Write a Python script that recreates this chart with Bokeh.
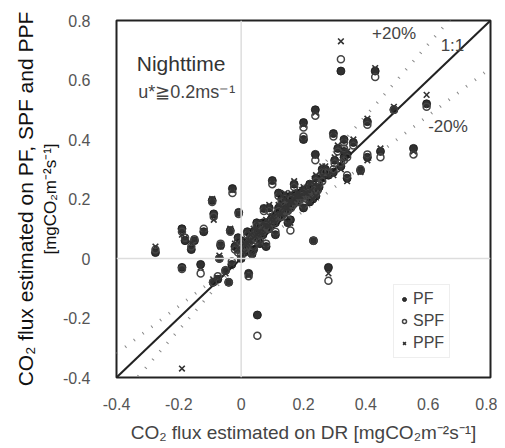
import numpy as np
from bokeh.plotting import figure
from bokeh.models import Label, FixedTicker, Span, Legend, LegendItem, LinearAxis
from bokeh.embed import file_html
from bokeh.resources import INLINE

# DR-estimated flux (x) and PF / SPF / PPF estimates (y), mgCO2 m-2 s-1
dr = [0.32, 0.43, 0.595, 0.238, 0.49, 0.405, 0.553, 0.447, 0.405, 0.20,
      0.20, 0.238, 0.296, 0.33, 0.33, 0.296, 0.232, 0.28, 0.052, -0.19,
      -0.275, -0.19, -0.18, -0.15, -0.12, -0.093, -0.088, -0.066, -0.07, -0.13,
      -0.028, -0.008, -0.035, -0.04, 0.024, -0.075, 0.158, 0.10, 0.073, 0.383,
      0.34, -0.16, 0.0, 0.01, 0.02, 0.03, 0.04, 0.05, 0.06, 0.07,
      0.08, 0.09, 0.10, 0.11, 0.12, 0.13, 0.14, 0.15, 0.16, 0.17,
      0.18, 0.19, 0.20, 0.21, 0.22, 0.23, 0.24, 0.25, 0.26, 0.28,
      0.30, 0.32, 0.34, 0.02, 0.04, 0.06, -0.02, -0.03, -0.01, 0.09,
      0.13, 0.17, 0.11, 0.15, 0.08, -0.05, -0.09, 0.05, 0.12, 0.20,
      0.24, 0.035, 0.015, 0.025, 0.045, 0.055, 0.065, 0.075, 0.085, 0.095,
      0.105, 0.115, 0.125, 0.135, 0.145, 0.155, 0.165, 0.175, 0.185, 0.195,
      0.205, 0.215, 0.225, 0.235, 0.245, 0.27, 0.31, 0.33, 0.36, 0.01,
      -0.01, 0.0, 0.03, 0.05, 0.07, 0.14, 0.16, 0.18, 0.22, 0.26]
pf = [0.63, 0.63, 0.52, 0.50, 0.50, 0.46, 0.37, 0.36, 0.34, 0.457,
      0.40, 0.35, 0.42, 0.40, 0.36, 0.29, 0.06, -0.03, -0.19, -0.03,
      0.02, 0.10, 0.06, 0.06, 0.09, 0.195, 0.15, 0.044, 0.0, -0.02,
      0.235, 0.155, 0.094, -0.08, -0.05, -0.07, 0.13, 0.262, 0.168, 0.296,
      0.27, 0.03, 0.0, 0.02, 0.05, 0.06, 0.09, 0.07, 0.10, 0.08,
      0.12, 0.10, 0.14, 0.12, 0.17, 0.15, 0.19, 0.17, 0.21, 0.19,
      0.22, 0.20, 0.23, 0.21, 0.25, 0.20, 0.27, 0.24, 0.30, 0.28,
      0.33, 0.31, 0.35, 0.09, 0.03, 0.05, 0.04, -0.02, 0.07, 0.17,
      0.20, 0.25, 0.08, 0.12, 0.04, -0.04, -0.08, 0.12, 0.22, 0.17,
      0.21, 0.015, 0.04, 0.06, 0.07, 0.09, 0.08, 0.11, 0.10, 0.13,
      0.12, 0.15, 0.14, 0.17, 0.16, 0.19, 0.18, 0.21, 0.20, 0.22,
      0.21, 0.23, 0.22, 0.24, 0.23, 0.30, 0.37, 0.34, 0.39, 0.05,
      0.03, 0.06, 0.08, 0.10, 0.12, 0.21, 0.18, 0.20, 0.19, 0.27]
spf = [0.67, 0.61, 0.51, 0.48, 0.50, 0.45, 0.35, 0.34, 0.35, 0.44,
       0.41, 0.33, 0.41, 0.39, 0.37, 0.30, 0.06, -0.075, -0.26, -0.035,
       0.03, 0.09, 0.07, 0.065, 0.10, 0.19, 0.14, 0.05, 0.0, -0.05,
       0.22, 0.15, 0.09, -0.08, -0.06, -0.06, 0.094, 0.25, 0.16, 0.30,
       0.28, 0.04, 0.01, 0.03, 0.04, 0.07, 0.08, 0.06, 0.11, 0.09,
       0.11, 0.10, 0.13, 0.13, 0.16, 0.14, 0.18, 0.16, 0.20, 0.19,
       0.21, 0.20, 0.22, 0.21, 0.24, 0.21, 0.26, 0.25, 0.29, 0.29,
       0.32, 0.32, 0.34, 0.08, 0.04, 0.06, 0.03, -0.01, 0.06, 0.16,
       0.19, 0.24, 0.09, 0.13, 0.05, -0.04, -0.08, 0.11, 0.21, 0.18,
       0.22, 0.02, 0.035, 0.055, 0.07, 0.085, 0.08, 0.10, 0.10, 0.12,
       0.12, 0.14, 0.14, 0.16, 0.16, 0.18, 0.18, 0.20, 0.19, 0.21,
       0.21, 0.22, 0.22, 0.23, 0.23, 0.29, 0.36, 0.33, 0.38, 0.04,
       0.02, 0.05, 0.07, 0.09, 0.11, 0.20, 0.17, 0.19, 0.20, 0.26]
ppf = [0.73, 0.64, 0.55, 0.49, 0.51, 0.47, 0.36, 0.37, 0.33, 0.45,
       0.40, 0.346, 0.42, 0.40, 0.35, 0.28, 0.06, -0.05, -0.19, -0.37,
       0.04, 0.08, 0.07, 0.065, 0.09, 0.20, 0.13, 0.04, 0.01, -0.03,
       0.23, 0.15, 0.10, -0.08, -0.057, -0.065, 0.12, 0.26, 0.17, 0.29,
       0.26, 0.05, 0.0, 0.02, 0.05, 0.06, 0.10, 0.08, 0.09, 0.08,
       0.13, 0.11, 0.14, 0.12, 0.18, 0.15, 0.20, 0.17, 0.22, 0.20,
       0.22, 0.21, 0.24, 0.22, 0.25, 0.20, 0.28, 0.24, 0.31, 0.28,
       0.34, 0.30, 0.36, 0.09, 0.03, 0.05, 0.05, -0.02, 0.07, 0.18,
       0.21, 0.26, 0.08, 0.12, 0.04, -0.05, -0.07, 0.12, 0.22, 0.17,
       0.21, 0.015, 0.045, 0.06, 0.075, 0.09, 0.085, 0.11, 0.11, 0.13,
       0.13, 0.15, 0.15, 0.17, 0.17, 0.19, 0.19, 0.21, 0.21, 0.23,
       0.22, 0.24, 0.23, 0.25, 0.24, 0.31, 0.38, 0.35, 0.40, 0.05,
       0.03, 0.06, 0.08, 0.10, 0.12, 0.22, 0.19, 0.21, 0.19, 0.28]

ticks = [-0.4, -0.2, 0.0, 0.2, 0.4, 0.6, 0.8]
tick_labels = ["-0.4", "-0.2", "0", "0.2", "0.4", "0.6", "0.8"]
line_ends = [-0.4, 0.8]

p = figure(width=497, height=447, x_range=(-0.4, 0.8), y_range=(-0.4, 0.8),
           output_backend="svg", toolbar_location=None,
           min_border_left=116, min_border_right=7, min_border_top=20, min_border_bottom=70)
p.grid.visible = False
p.background_fill_color = "white"
p.border_fill_color = "white"
p.outline_line_color = "#222222"
p.outline_line_width = 2

for ax in (p.xaxis, p.yaxis):
    ax.ticker = FixedTicker(ticks=ticks)
    ax.major_label_overrides = {t: l for t, l in zip(ticks, tick_labels)}
    ax.major_tick_line_color = None
    ax.minor_tick_line_color = None
    ax.axis_line_color = None
    ax.major_label_text_font = "Liberation Sans"
    ax.major_label_text_font_size = "16px"
    ax.major_label_text_color = "#555555"
    ax.axis_label_text_font = "Liberation Sans"
    ax.axis_label_text_font_style = "normal"

p.xaxis.axis_label = "CO\u2082 flux estimated on DR [mgCO\u2082m\u207b\u00b2s\u207b\u00b9]"
p.xaxis.axis_label_text_font_size = "19px"
p.xaxis.axis_label_text_color = "#444444"
p.xaxis.major_label_standoff = 14
p.xaxis.axis_label_standoff = 9

p.yaxis.axis_label = "[mgCO\u2082m\u207b\u00b2s\u207b\u00b9]"
p.yaxis.axis_label_text_font_size = "17px"
p.yaxis.axis_label_text_color = "#111111"
p.yaxis.major_label_standoff = 20
p.yaxis.axis_label_standoff = 0

outer = LinearAxis(ticker=FixedTicker(ticks=[]), axis_line_color=None,
                   major_tick_line_color=None, minor_tick_line_color=None,
                   axis_label="CO\u2082 flux estimated on PF, SPF and PPF",
                   axis_label_text_font="Liberation Sans", axis_label_text_font_style="normal",
                   axis_label_text_font_size="21px", axis_label_text_color="#111111",
                   axis_label_standoff=1)
p.add_layout(outer, "left")

# zero lines
p.add_layout(Span(location=0, dimension="width", line_color="#dddddd", line_width=1.5))
p.add_layout(Span(location=0, dimension="height", line_color="#dddddd", line_width=1.5))

# 1:1 and +-20% lines
p.line(line_ends, line_ends, line_color="#222222", line_width=2)
p.line(line_ends, [v * 1.2 for v in line_ends], line_color="#888888", line_width=3, line_dash="1 10")
p.line(line_ends, [v * 0.8 for v in line_ends], line_color="#888888", line_width=3, line_dash="1 10")

r_pf = p.scatter(dr, pf, marker="circle", size=8, fill_color="#1a1a1a", line_color="#1a1a1a", alpha=0.9)
r_spf = p.scatter(dr, spf, marker="circle", size=7, fill_color=None, line_color="#444444", line_width=1.5)
r_ppf = p.scatter(dr, ppf, marker="x", size=8, line_color="#333333", line_width=1.6)

legend = Legend(items=[LegendItem(label="PF", renderers=[r_pf]),
                       LegendItem(label="SPF", renderers=[r_spf]),
                       LegendItem(label="PPF", renderers=[r_ppf])],
                location=(277, 19), label_text_font="Liberation Sans", label_text_font_size="16px",
                label_text_color="#444444", glyph_width=10, glyph_height=14, label_standoff=4,
                spacing=4, padding=5, border_line_color="#dddddd", background_fill_alpha=1.0,
                label_height=18)
p.add_layout(legend)

def lab(x, y, t, size="17px", color="#333333", style="normal"):
    p.add_layout(Label(x=x, y=y, text=t, text_font="Liberation Sans", text_font_size=size,
                       text_color=color, text_font_style=style, text_baseline="middle"))

lab(-0.335, 0.655, "Nighttime", "21px", "#333333")
lab(-0.33, 0.56, "u*\u22670.2ms\u207b\u00b9", "18px", "#444444")
lab(0.42, 0.757, "+20%", "17px", "#444444")
lab(0.64, 0.715, "1:1", "17px", "#444444")
lab(0.60, 0.443, "-20%", "17px", "#444444")

open("out.html", "w").write(file_html(p, INLINE))
